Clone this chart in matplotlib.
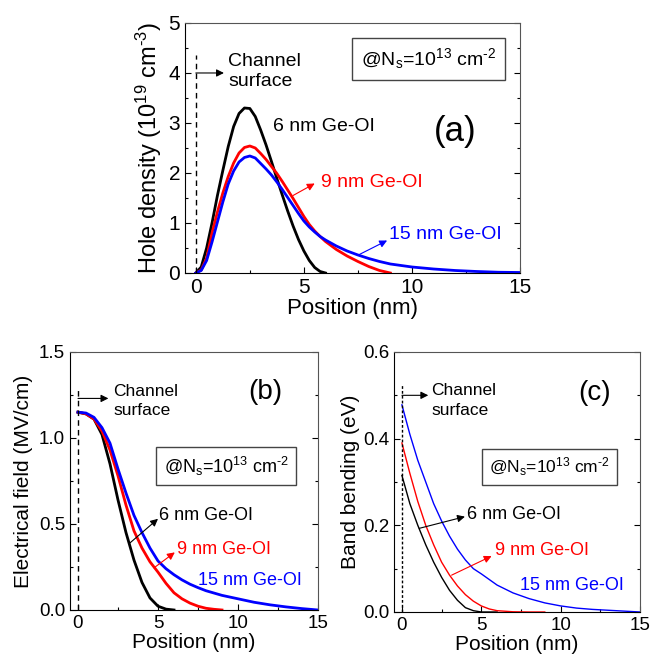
import matplotlib
matplotlib.use("Agg")
import matplotlib.pyplot as plt

plt.rcParams['font.family'] = ['Liberation Sans', 'DejaVu Sans']
plt.rcParams['mathtext.fontset'] = 'custom'
plt.rcParams['mathtext.rm'] = 'Liberation Sans'
plt.rcParams['mathtext.it'] = 'Liberation Sans'
plt.rcParams['mathtext.default'] = 'regular'

# (a) hole density, 1e19 cm^-3
hx6 = [0, 0.25, 0.5, 0.75, 1.0, 1.25, 1.5, 1.75, 2.0, 2.25, 2.5, 2.75, 3.0,
       3.25, 3.5, 3.75, 4.0, 4.25, 4.5, 4.75, 5.0, 5.25, 5.5, 5.75, 6.0]
hy6 = [0, 0.12, 0.5, 1.0, 1.55, 2.05, 2.53, 2.93, 3.19, 3.3, 3.29, 3.13, 2.86,
       2.56, 2.23, 1.89, 1.56, 1.24, 0.94, 0.67, 0.44, 0.25, 0.11, 0.03, 0]
hx9 = [0, 0.25, 0.5, 0.75, 1.0, 1.25, 1.5, 1.75, 2.0, 2.25, 2.5, 2.75, 3.0,
       3.25, 3.5, 3.75, 4.0, 4.25, 4.5, 4.75, 5.0, 5.25, 5.5, 5.75, 6.0,
       6.5, 7.0, 7.5, 8.0, 8.5, 9.0]
hy9 = [0, 0.06, 0.3, 0.8, 1.22, 1.6, 1.93, 2.2, 2.4, 2.51, 2.54, 2.5, 2.39,
       2.27, 2.13, 1.99, 1.83, 1.66, 1.49, 1.31, 1.13, 0.97, 0.84, 0.73, 0.63,
       0.47, 0.34, 0.23, 0.13, 0.05, 0]
hx15 = [0, 0.25, 0.5, 0.75, 1.0, 1.25, 1.5, 1.75, 2.0, 2.25, 2.5, 2.75, 3.0,
        3.25, 3.5, 3.75, 4.0, 4.25, 4.5, 4.75, 5.0, 5.25, 5.5, 5.75, 6.0,
        6.5, 7.0, 7.5, 8.0, 8.5, 9.0, 9.5, 10, 11, 12, 13, 14, 15]
hy15 = [0, 0.05, 0.25, 0.62, 1.02, 1.42, 1.78, 2.04, 2.22, 2.31, 2.34, 2.3, 2.19,
        2.08, 1.96, 1.82, 1.67, 1.51, 1.35, 1.19, 1.04, 0.92, 0.82, 0.73, 0.66,
        0.54, 0.44, 0.36, 0.29, 0.23, 0.18, 0.15, 0.12, 0.08, 0.05, 0.03, 0.015, 0.01]

# (b) electrical field, MV/cm
ex6 = [0, 0.5, 1.0, 1.5, 2.0, 2.5, 3.0, 3.5, 4.0, 4.5, 5.0, 5.5, 6.0]
ey6 = [1.15, 1.14, 1.11, 1.02, 0.85, 0.64, 0.45, 0.29, 0.16, 0.07, 0.022, 0.005, 0]
ex9 = [0, 0.5, 1.0, 1.5, 2.0, 2.5, 3.0, 3.5, 4.0, 4.5, 5.0, 5.5, 6.0, 6.5,
       7.0, 7.5, 8.0, 8.5, 9.0]
ey9 = [1.15, 1.14, 1.11, 1.04, 0.93, 0.78, 0.61, 0.46, 0.36, 0.28, 0.22, 0.155,
       0.1, 0.065, 0.04, 0.022, 0.01, 0.004, 0]
ex15 = [0, 0.5, 1.0, 1.5, 2.0, 2.5, 3.0, 3.5, 4.0, 4.5, 5.0, 5.5, 6.0, 6.5, 7.0,
        7.5, 8.0, 9.0, 10, 11, 12, 13, 14, 15]
ey15 = [1.15, 1.145, 1.12, 1.06, 0.97, 0.82, 0.68, 0.55, 0.45, 0.36, 0.285,
        0.24, 0.205, 0.175, 0.15, 0.13, 0.112, 0.085, 0.065, 0.045, 0.03, 0.018,
        0.008, 0]

# (c) band bending, eV
bx6 = [0, 0.5, 1.0, 1.5, 2.0, 2.5, 3.0, 3.5, 4.0, 4.5, 5.0, 6.0]
by6 = [0.315, 0.25, 0.2, 0.155, 0.115, 0.08, 0.05, 0.027, 0.01, 0.003, 0, 0]
bx9 = [0, 0.5, 1.0, 1.5, 2.0, 2.5, 3.0, 3.5, 4.0, 4.5, 5.0, 5.5, 6.0, 7.0, 8.0, 9.0]
by9 = [0.39, 0.32, 0.255, 0.2, 0.155, 0.115, 0.085, 0.06, 0.04, 0.025, 0.014,
       0.007, 0.003, 0.0005, 0, 0]
bx15 = [0, 0.5, 1.0, 1.5, 2.0, 2.5, 3.0, 3.5, 4.0, 4.5, 5.0, 6.0, 7.0, 8.0,
        9.0, 10, 11, 12, 13, 14, 15]
by15 = [0.478, 0.41, 0.35, 0.3, 0.25, 0.21, 0.175, 0.145, 0.12, 0.1, 0.088,
        0.062, 0.044, 0.031, 0.021, 0.014, 0.009, 0.006, 0.004, 0.002, 0]

labels = ['6 nm Ge-OI', '9 nm Ge-OI', '15 nm Ge-OI']
colors = ['black', 'red', 'blue']
ns_text = r'@N$_s$=10$^{13}$ cm$^{\text{-}2}$'


def style_axes(ax, ymax, ystep, tick_fs):
    ax.set_xlim(-0.5, 15)
    ax.set_ylim(0, ymax)
    ax.set_xticks([0, 5, 10, 15])
    ax.set_xticks([2.5, 7.5, 12.5], minor=True)
    ax.set_yticks([i * ystep for i in range(int(round(ymax / ystep)) + 1)])
    ax.set_yticks([(i + 0.5) * ystep for i in range(int(round(ymax / ystep)))], minor=True)
    ax.tick_params(which='both', direction='in', right=True, top=False, labelsize=tick_fs)
    ax.tick_params(which='major', length=4, width=0.8)
    ax.tick_params(which='minor', length=2.5, width=0.8)
    for s in ['top', 'right']:
        ax.spines[s].set_color('#555555')
    for s in ['left', 'bottom']:
        ax.spines[s].set_color('black')


def arrow(ax, start, end, color, lw=0.8):
    ax.annotate('', xy=end, xytext=start,
                arrowprops=dict(arrowstyle='-|>', color=color, lw=lw,
                                mutation_scale=11, shrinkA=0, shrinkB=0))


fig = plt.figure(figsize=(6.51, 6.66), dpi=100)

# panel (a)
ax = fig.add_axes([0.2842, 0.5901, 0.5146, 0.3754])
for x, y, c in zip([hx6, hx9, hx15], [hy6, hy9, hy15], colors):
    ax.plot(x, y, color=c, lw=2, solid_joinstyle='round')
ax.plot([0, 0], [0, 4.35], color='black', lw=1, ls=(0, (4, 3)))
arrow(ax, (0, 4.0), (1.3, 4.0), 'black')
ax.text(1.5, 4.23, 'Channel', fontsize=14, va='center')
ax.text(1.5, 3.83, 'surface', fontsize=14, va='center')
ax.text(3.55, 2.93, labels[0], color='black', fontsize=14, va='center')
ax.text(5.79, 1.81, labels[1], color='red', fontsize=14, va='center')
arrow(ax, (4.5, 1.55), (5.5, 1.79), 'red')
ax.text(8.95, 0.76, labels[2], color='blue', fontsize=14, va='center')
arrow(ax, (7.52, 0.36), (8.85, 0.65), 'blue')
ax.text(12.0, 2.83, '(a)', fontsize=25, ha='center', va='center')
ax.text(10.77, 4.28, ns_text, fontsize=14, ha='center', va='center',
        bbox=dict(boxstyle='square,pad=0.45', fc='white', ec='#444444', lw=1))
style_axes(ax, 5, 1, 15)
ax.set_xlabel('Position (nm)', fontsize=16, labelpad=1)
ax.set_ylabel('Hole density (10$^{19}$ cm$^{\\text{-}3}$)', fontsize=17, labelpad=3)

# panel (b)
ax = fig.add_axes([0.1075, 0.0841, 0.381, 0.3874])
for x, y, c in zip([ex6, ex9, ex15], [ey6, ey9, ey15], colors):
    ax.plot(x, y, color=c, lw=2, solid_joinstyle='round')
ax.plot([0, 0], [0, 1.29], color='black', lw=1, ls=(0, (4, 3)))
arrow(ax, (0, 1.23), (1.9, 1.23), 'black')
ax.text(2.2, 1.27, 'Channel', fontsize=12.5, va='center')
ax.text(2.2, 1.16, 'surface', fontsize=12.5, va='center')
ax.text(5.08, 0.55, labels[0], color='black', fontsize=13, va='center')
arrow(ax, (3.25, 0.39), (5.0, 0.53), 'black')
ax.text(6.17, 0.35, labels[1], color='red', fontsize=13, va='center')
arrow(ax, (4.75, 0.245), (6.05, 0.335), 'red')
ax.text(7.52, 0.17, labels[2], color='blue', fontsize=13, va='center')
ax.text(11.7, 1.27, '(b)', fontsize=20, ha='center', va='center')
ax.text(9.27, 0.837, ns_text, fontsize=13, ha='center', va='center',
        bbox=dict(boxstyle='square,pad=0.4', fc='white', ec='#444444', lw=1))
style_axes(ax, 1.5, 0.5, 13.5)
ax.set_yticklabels(['0.0', '0.5', '1.0', '1.5'])
ax.set_xlabel('Position (nm)', fontsize=15, labelpad=1)
ax.set_ylabel('Electrical field (MV/cm)', fontsize=15, labelpad=4)

# panel (c)
ax = fig.add_axes([0.6052, 0.0811, 0.3779, 0.3904])
for x, y, c in zip([bx6, bx9, bx15], [by6, by9, by15], colors):
    ax.plot(x, y, color=c, lw=1, solid_joinstyle='round')
ax.plot([0, 0], [0, 0.525], color='black', lw=1, ls=(0, (2, 1.5)))
arrow(ax, (0, 0.5), (1.66, 0.5), 'black')
ax.text(1.87, 0.512, 'Channel', fontsize=12.5, va='center')
ax.text(1.87, 0.466, 'surface', fontsize=12.5, va='center')
ax.text(4.07, 0.224, labels[0], color='black', fontsize=13, va='center')
arrow(ax, (1.09, 0.193), (3.97, 0.22), 'black')
ax.text(5.86, 0.143, labels[1], color='red', fontsize=13, va='center')
arrow(ax, (3.13, 0.085), (5.65, 0.129), 'red')
ax.text(7.43, 0.06, labels[2], color='blue', fontsize=13, va='center')
ax.text(12.16, 0.505, '(c)', fontsize=20, ha='center', va='center')
ax.text(9.29, 0.334, ns_text, fontsize=12.5, ha='center', va='center',
        bbox=dict(boxstyle='square,pad=0.4', fc='white', ec='#444444', lw=1))
style_axes(ax, 0.6, 0.2, 13.5)
ax.set_yticklabels(['0.0', '0.2', '0.4', '0.6'])
ax.set_xlabel('Position (nm)', fontsize=15, labelpad=1)
ax.set_ylabel('Band bending (eV)', fontsize=15, labelpad=2)

fig.savefig('out.png', dpi=100)
